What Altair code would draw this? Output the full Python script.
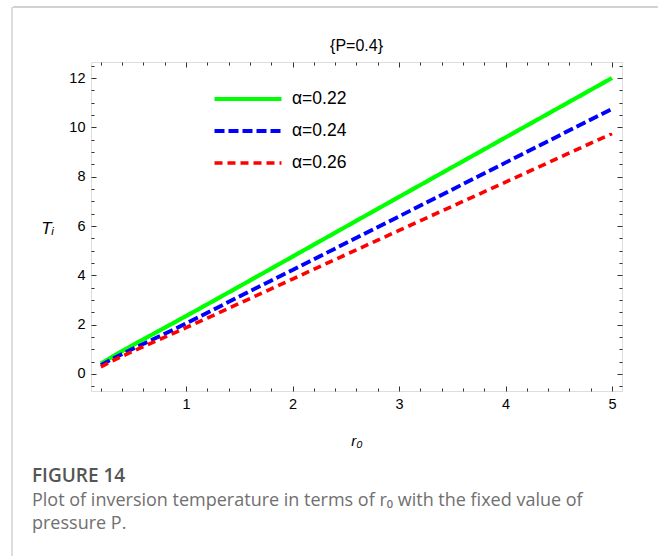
import altair as alt
import pandas as pd

# ---- data ----
r_vals = [0.2, 0.3, 0.5, 0.75, 1.0, 1.5, 2.0, 3.0, 4.0, 5.0]
T_a022 = [0.42, 0.68, 1.17, 1.76, 2.35, 3.55, 4.76, 7.18, 9.59, 12.0]
T_a024 = [0.36, 0.59, 1.02, 1.53, 2.05, 3.14, 4.22, 6.39, 8.57, 10.75]
T_a026 = [0.29, 0.51, 0.92, 1.40, 1.88, 2.86, 3.85, 5.82, 7.78, 9.75]
series_labels = ["α=0.22", "α=0.24", "α=0.26"]
series_colors = ["#00ff00", "#0000ff", "#ff0000"]
series_widths = [4.2, 3.6, 2.3]
series_dashes = [[1, 0], [10, 4], [8, 5]]

x_major = [1, 2, 3, 4, 5]
x_minor = [0.2, 0.4, 0.6, 0.8, 1.2, 1.4, 1.6, 1.8, 2.2, 2.4, 2.6, 2.8,
           3.2, 3.4, 3.6, 3.8, 4.2, 4.4, 4.6, 4.8]
y_major = [0, 2, 4, 6, 8, 10, 12]
y_minor = [-0.5, 0.5, 1, 1.5, 2.5, 3, 3.5, 4.5, 5, 5.5, 6.5, 7, 7.5, 8.5, 9, 9.5,
           10.5, 11, 11.5, 12.5]

title_text = "{P=0.4}"
x_title = "r₀"
y_title = "Tᵢ"
caption_head = "FIGURE 14"
caption_line1 = "Plot of inversion temperature in terms of r₀ with the fixed value of"
caption_line2 = "pressure P."

# ---- layout ----
W, H = 531, 329
PAD_L, PAD_T = 91, 62
PAD_R, PAD_B = 658 - PAD_L - W, 556 - PAD_T - H

rows = []
for lab, ys in zip(series_labels, [T_a022, T_a024, T_a026]):
    for r, t in zip(r_vals, ys):
        rows.append({"r": r, "T": t, "series": lab})
df = pd.DataFrame(rows)
one = pd.DataFrame({"a": [0]})

xscale = alt.Scale(domain=[0.107, 5.094], nice=False, zero=False)
yscale = alt.Scale(domain=[-0.69, 12.65], nice=False, zero=False)

FONT = "Liberation Sans"

legend = alt.Legend(
    title=None, orient="none", legendX=121, legendY=21,
    symbolType="stroke", symbolSize=67 * 67, labelFontSize=17.5, labelFont=FONT,
    labelColor="black", clipHeight=32, rowPadding=0, padding=0, labelOffset=8,
)

lines = alt.Chart(df).mark_line(interpolate="monotone").encode(
    x=alt.X("r:Q", scale=xscale, axis=alt.Axis(
        orient="bottom", values=x_major, ticks=False, domain=False, grid=False,
        labelFont=FONT, labelFontSize=14.5, labelColor="black", labelPadding=6,
        title=x_title, titleFont=FONT, titleFontSize=15, titleFontStyle="italic",
        titleFontWeight="normal", titleX=W / 2, titleY=49, titleBaseline="middle",
        titleAlign="center")),
    y=alt.Y("T:Q", scale=yscale, axis=alt.Axis(
        orient="left", values=y_major, ticks=False, domain=False, grid=False,
        labelFont=FONT, labelFontSize=14.5, labelColor="black", labelPadding=6,
        title=y_title, titleFont=FONT, titleFontSize=17, titleFontStyle="italic",
        titleFontWeight="normal", titleAngle=0, titleX=-44, titleY=166,
        titleBaseline="middle", titleAlign="center")),
    color=alt.Color("series:N", scale=alt.Scale(domain=series_labels, range=series_colors), legend=legend),
    strokeDash=alt.StrokeDash("series:N", scale=alt.Scale(domain=series_labels, range=series_dashes), legend=legend),
    strokeWidth=alt.StrokeWidth("series:N", scale=alt.Scale(domain=series_labels, range=series_widths), legend=legend),
)


def xticks(orient, vals, size):
    return alt.Chart(df).mark_point(opacity=0).encode(
        x=alt.X("r:Q", scale=xscale, axis=alt.Axis(
            orient=orient, offset=-H, values=vals, labels=False, domain=False,
            grid=False, tickSize=size, tickColor="#333", title=None)),
        y=alt.Y("T:Q", scale=yscale, axis=None),
    )


def yticks(orient, vals, size):
    return alt.Chart(df).mark_point(opacity=0).encode(
        x=alt.X("r:Q", scale=xscale, axis=None),
        y=alt.Y("T:Q", scale=yscale, axis=alt.Axis(
            orient=orient, offset=-W, values=vals, labels=False, domain=False,
            grid=False, tickSize=size, tickColor="#333", title=None)),
    )


tick_layers = [
    xticks("top", x_major, 5), xticks("top", x_minor, 3),      # bottom edge, inward
    xticks("bottom", x_major, 5), xticks("bottom", x_minor, 3),  # top edge, inward
    yticks("right", y_major, 5), yticks("right", y_minor, 3),   # left edge, inward
    yticks("left", y_major, 5), yticks("left", y_minor, 3),     # right edge, inward
]

# plot title as a text mark centred over the frame
title_mark = alt.Chart(one).mark_text(
    align="center", baseline="alphabetic", font=FONT, fontSize=16,
    color="black").encode(
    x=alt.value(W / 2), y=alt.value(51 - PAD_T), text=alt.value(title_text))

# card border (top and left)
border_top = alt.Chart(one).mark_rule(color="#d2d2d2", strokeWidth=2).encode(
    x=alt.value(13 - PAD_L), x2=alt.value(658 - PAD_L), y=alt.value(7 - PAD_T))
border_left = alt.Chart(one).mark_rule(color="#d2d2d2", strokeWidth=1.5).encode(
    x=alt.value(12 - PAD_L), y=alt.value(7 - PAD_T), y2=alt.value(556 - PAD_T))

cap_font = "Open Sans"
cap_head = alt.Chart(one).mark_text(
    align="left", baseline="alphabetic", font=cap_font, fontSize=19,
    fontWeight=600, color="#555555").encode(
    x=alt.value(32 - PAD_L), y=alt.value(482 - PAD_T), text=alt.value(caption_head))
cap_l1 = alt.Chart(one).mark_text(
    align="left", baseline="alphabetic", font=cap_font, fontSize=18,
    fontWeight="normal", color="#707070").encode(
    x=alt.value(32 - PAD_L), y=alt.value(506 - PAD_T), text=alt.value(caption_line1))
cap_l2 = alt.Chart(one).mark_text(
    align="left", baseline="alphabetic", font=cap_font, fontSize=18,
    fontWeight="normal", color="#707070").encode(
    x=alt.value(32 - PAD_L), y=alt.value(529 - PAD_T), text=alt.value(caption_line2))

chart = alt.layer(
    *tick_layers, lines, title_mark, border_top, border_left, cap_head, cap_l1, cap_l2
).resolve_axis(x="independent", y="independent").properties(
    width=W, height=H,
    autosize=alt.AutoSizeParams(type="none"),
    padding={"left": PAD_L, "top": PAD_T, "right": PAD_R, "bottom": PAD_B},
).configure_view(stroke="#333333", strokeWidth=1).configure(background="white")

chart.save("out.html", embed_options={"renderer": "svg", "actions": False})
